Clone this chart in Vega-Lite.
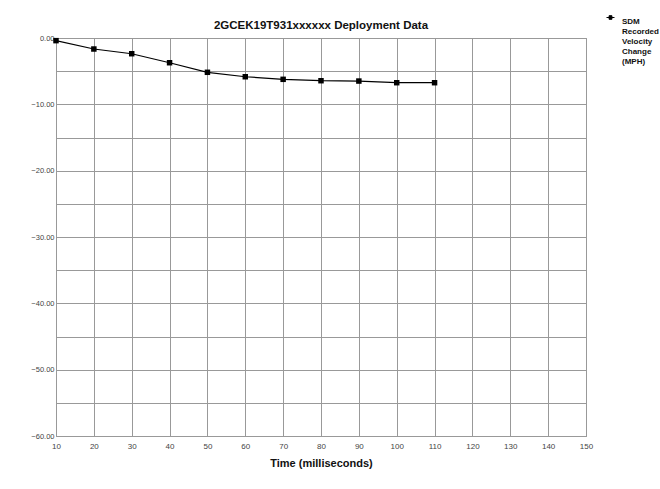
{
  "$schema": "https://vega.github.io/schema/vega-lite/v6.json",
  "width": 530,
  "height": 398,
  "autosize": "none",
  "padding": {"left": 56, "top": 38, "right": 74, "bottom": 53},
  "background": "white",
  "config": {
    "font": "Liberation Sans",
    "view": {"stroke": "#888", "strokeWidth": 1}
  },
  "title": {
    "text": "2GCEK19T931xxxxxx  Deployment Data",
    "fontSize": 11.5,
    "fontWeight": "bold",
    "color": "#111",
    "offset": -18,
    "anchor": "middle"
  },
  "data": {
    "values": [
      {"time": 10, "v": -0.4, "series": "SDM Recorded Velocity Change (MPH)"},
      {"time": 20, "v": -1.66, "series": "SDM Recorded Velocity Change (MPH)"},
      {"time": 30, "v": -2.37, "series": "SDM Recorded Velocity Change (MPH)"},
      {"time": 40, "v": -3.73, "series": "SDM Recorded Velocity Change (MPH)"},
      {"time": 50, "v": -5.17, "series": "SDM Recorded Velocity Change (MPH)"},
      {"time": 60, "v": -5.84, "series": "SDM Recorded Velocity Change (MPH)"},
      {"time": 70, "v": -6.23, "series": "SDM Recorded Velocity Change (MPH)"},
      {"time": 80, "v": -6.44, "series": "SDM Recorded Velocity Change (MPH)"},
      {"time": 90, "v": -6.49, "series": "SDM Recorded Velocity Change (MPH)"},
      {"time": 100, "v": -6.74, "series": "SDM Recorded Velocity Change (MPH)"},
      {"time": 110, "v": -6.74, "series": "SDM Recorded Velocity Change (MPH)"}
    ]
  },
  "encoding": {
    "x": {
      "field": "time",
      "type": "quantitative",
      "scale": {"domain": [10, 150], "nice": false, "zero": false},
      "axis": {
        "title": "Time (milliseconds)",
        "titleFontSize": 11,
        "titleFontWeight": "bold",
        "titleColor": "#111",
        "titlePadding": 7,
        "values": [10, 20, 30, 40, 50, 60, 70, 80, 90, 100, 110, 120, 130, 140, 150],
        "labelFontSize": 8,
        "labelColor": "#444",
        "labelPadding": 6,
        "ticks": false,
        "domain": false,
        "gridColor": "#999",
        "gridOpacity": 1,
        "labelFlush": false
      }
    },
    "y": {
      "field": "v",
      "type": "quantitative",
      "scale": {"domain": [-60, 0], "nice": false},
      "axis": {
        "title": null,
        "values": [0, -5, -10, -15, -20, -25, -30, -35, -40, -45, -50, -55, -60],
        "labelExpr": "datum.value % 10 === 0 ? format(datum.value, '.2f') : ''",
        "labelFontSize": 7.5,
        "labelColor": "#444",
        "labelPadding": 2,
        "ticks": false,
        "domain": false,
        "gridColor": "#999",
        "gridOpacity": 1
      }
    },
    "color": {
      "field": "series",
      "type": "nominal",
      "scale": {"range": ["#000000"]},
      "legend": {
        "title": null,
        "orient": "none",
        "legendX": 550,
        "legendY": -25,
        "symbolType": "M-1,0H1M-0.35,-0.45H0.35V0.45H-0.35Z",
        "symbolSize": 64,
        "symbolFillColor": "#000",
        "symbolStrokeColor": "#000",
        "symbolStrokeWidth": 1,
        "labelExpr": "['SDM', 'Recorded', 'Velocity', 'Change', '(MPH)']",
        "labelFontSize": 8,
        "labelFontWeight": "bold",
        "labelColor": "#111",
        "labelLimit": 0,
        "labelOffset": 7,
        "labelBaseline": "top",
        "labelLineHeight": 10.3
      }
    }
  },
  "layer": [
    {"mark": {"type": "line", "strokeWidth": 1.2, "color": "#000"}},
    {"mark": {"type": "point", "shape": "square", "filled": true, "size": 30, "opacity": 1, "color": "#000"}}
  ]
}
